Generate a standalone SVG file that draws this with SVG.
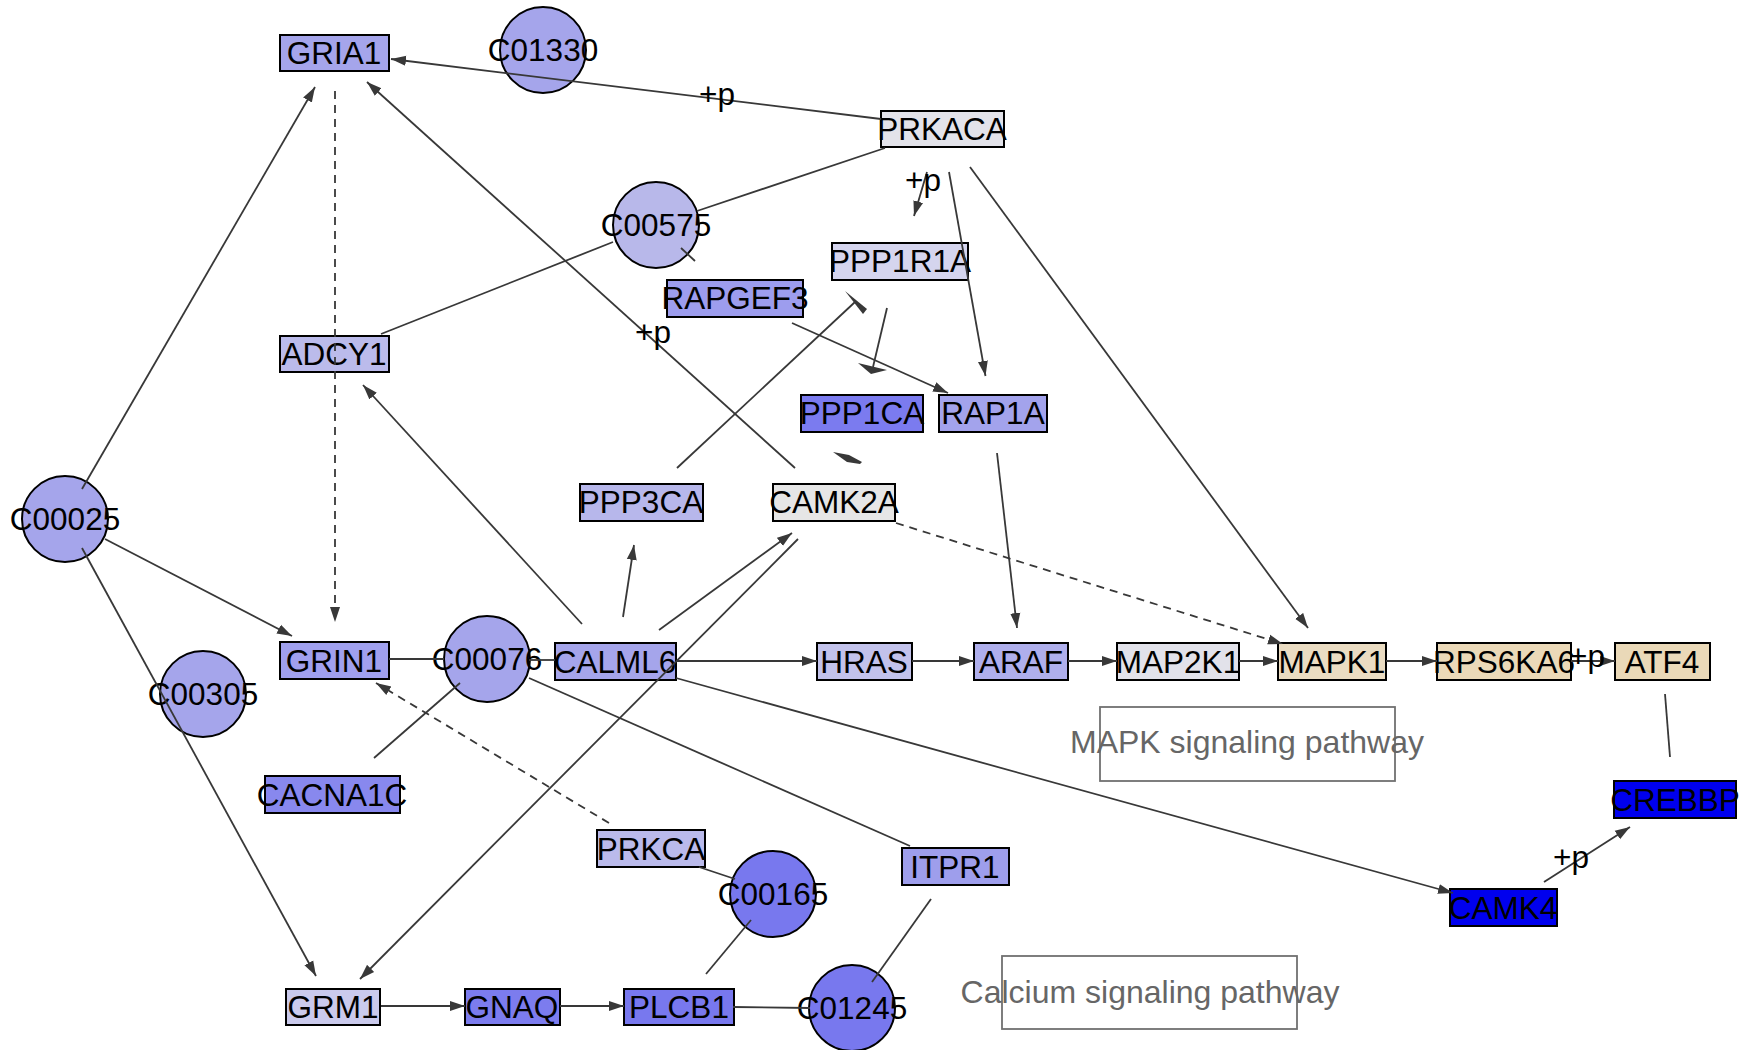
<svg xmlns="http://www.w3.org/2000/svg" width="1755" height="1050" viewBox="0 0 1755 1050">
<style>
text{font-family:"Liberation Sans",Arial,sans-serif;font-size:31.5px;fill:#000;text-anchor:middle}
.n rect,.n circle{stroke:#000;stroke-width:2}
.e{stroke:#383838;stroke-width:1.8;fill:none}
.d{stroke-dasharray:8 6}
.a{marker-end:url(#arr)}
.h{fill:#383838;stroke:none}
.pw rect{fill:#fff;stroke:#707070;stroke-width:1.8}
.pw text{fill:#666;font-size:32px}
.lb{font-size:31.5px}
</style>
<defs>
<marker id="arr" markerUnits="userSpaceOnUse" markerWidth="16" markerHeight="12" refX="15" refY="6" orient="auto"><path d="M0,1 L15,6 L0,11 z" fill="#383838"/></marker>
</defs>
<rect width="1755" height="1050" fill="#fff"/>
<g id="pw-mapk" class="pw"><rect x="1100" y="707" width="295" height="74"/><text x="1247" y="753">MAPK signaling pathway</text></g>
<g id="pw-calcium" class="pw"><rect x="1002" y="956" width="295" height="73"/><text x="1150" y="1003">Calcium signaling pathway</text></g>
<g id="GRIA1" class="n"><rect x="280" y="35" width="109" height="36" fill="#A5A5EB"/><text x="334" y="64">GRIA1</text></g>
<g id="C01330" class="n"><circle cx="543" cy="50" r="43" fill="#A5A5EB"/><text x="543" y="61">C01330</text></g>
<g id="PRKACA" class="n"><rect x="881" y="111" width="123" height="36" fill="#E3E3EA"/><text x="942" y="140">PRKACA</text></g>
<g id="C00575" class="n"><circle cx="656" cy="225" r="43" fill="#B8B8EA"/><text x="656" y="236">C00575</text></g>
<g id="PPP1R1A" class="n"><rect x="832" y="243" width="136" height="37" fill="#D5D5EE"/><text x="900" y="272">PPP1R1A</text></g>
<g id="RAPGEF3" class="n"><rect x="667" y="280" width="136" height="37" fill="#9D9DEE"/><text x="735" y="309">RAPGEF3</text></g>
<g id="ADCY1" class="n"><rect x="280" y="336" width="109" height="36" fill="#BBBBEB"/><text x="334" y="365">ADCY1</text></g>
<g id="PPP1CA" class="n"><rect x="801" y="395" width="122" height="37" fill="#7B7BEF"/><text x="862" y="424">PPP1CA</text></g>
<g id="RAP1A" class="n"><rect x="939" y="395" width="108" height="37" fill="#A3A3EC"/><text x="993" y="424">RAP1A</text></g>
<g id="C00025" class="n"><circle cx="65" cy="519" r="43" fill="#A5A5EB"/><text x="65" y="530">C00025</text></g>
<g id="PPP3CA" class="n"><rect x="580" y="484" width="123" height="37" fill="#B7B7EB"/><text x="641" y="513">PPP3CA</text></g>
<g id="CAMK2A" class="n"><rect x="773" y="484" width="122" height="37" fill="#E6E6E6"/><text x="834" y="513">CAMK2A</text></g>
<g id="GRIN1" class="n"><rect x="280" y="642" width="109" height="37" fill="#A0A0EE"/><text x="334" y="672">GRIN1</text></g>
<g id="C00076" class="n"><circle cx="487" cy="659" r="43" fill="#A5A5EB"/><text x="487" y="670">C00076</text></g>
<g id="CALML6" class="n"><rect x="555" y="643" width="121" height="37" fill="#A5A5EB"/><text x="615" y="673">CALML6</text></g>
<g id="HRAS" class="n"><rect x="817" y="643" width="95" height="37" fill="#C2C2EB"/><text x="864" y="673">HRAS</text></g>
<g id="ARAF" class="n"><rect x="974" y="643" width="94" height="37" fill="#AFAFEC"/><text x="1021" y="673">ARAF</text></g>
<g id="MAP2K1" class="n"><rect x="1117" y="643" width="122" height="37" fill="#E2E2EA"/><text x="1178" y="673">MAP2K1</text></g>
<g id="MAPK1" class="n"><rect x="1278" y="643" width="108" height="37" fill="#EADCC2"/><text x="1332" y="673">MAPK1</text></g>
<g id="RPS6KA6" class="n"><rect x="1437" y="643" width="134" height="37" fill="#EBD9B8"/><text x="1504" y="673">RPS6KA6</text></g>
<g id="ATF4" class="n"><rect x="1615" y="643" width="95" height="37" fill="#EAD9B8"/><text x="1662" y="673">ATF4</text></g>
<g id="C00305" class="n"><circle cx="203" cy="694" r="43" fill="#A5A5EB"/><text x="203" y="705">C00305</text></g>
<g id="CACNA1C" class="n"><rect x="265" y="776" width="135" height="37" fill="#8888EE"/><text x="332" y="806">CACNA1C</text></g>
<g id="CREBBP" class="n"><rect x="1614" y="781" width="122" height="37" fill="#0000EE"/><text x="1675" y="811">CREBBP</text></g>
<g id="PRKCA" class="n"><rect x="597" y="830" width="108" height="37" fill="#BABAEB"/><text x="651" y="860">PRKCA</text></g>
<g id="ITPR1" class="n"><rect x="902" y="848" width="107" height="37" fill="#9E9EEC"/><text x="955" y="878">ITPR1</text></g>
<g id="C00165" class="n"><circle cx="773" cy="894" r="43" fill="#7878EE"/><text x="773" y="905">C00165</text></g>
<g id="CAMK4" class="n"><rect x="1450" y="889" width="107" height="37" fill="#0000EE"/><text x="1503" y="919">CAMK4</text></g>
<g id="GRM1" class="n"><rect x="286" y="989" width="94" height="36" fill="#CACAEC"/><text x="333" y="1018">GRM1</text></g>
<g id="GNAQ" class="n"><rect x="465" y="989" width="95" height="36" fill="#7C7CEE"/><text x="512" y="1018">GNAQ</text></g>
<g id="PLCB1" class="n"><rect x="624" y="989" width="110" height="36" fill="#7878EE"/><text x="679" y="1018">PLCB1</text></g>
<g id="C01245" class="n"><circle cx="852" cy="1008" r="43" fill="#7878EE"/><text x="852" y="1019">C01245</text></g>
<g id="edges">
<path class="e a" d="M881,119 L391,59"/>
<path class="e" d="M381,334 L613,242"/>
<path class="e" d="M697,211 L885,148"/>
<path class="e" d="M681,248 L695,261"/>
<path class="e a" d="M82,489 L315,87"/>
<path class="e d a" d="M335,91 L335,622"/>
<path class="e a" d="M105,539 L292,636"/>
<path class="e a" d="M82,548 L316,976"/>
<path class="e a" d="M582,624 L363,385"/>
<path class="e a" d="M795,468 L367,82"/>
<path class="e a" d="M927,172 L914,216"/>
<path class="e a" d="M949,172 L985.5,376"/>
<path class="e a" d="M970,167 L1308,628"/>
<path class="e a" d="M792,323 L948,393"/>
<path class="e" d="M677,468 L855,302"/>
<polygon class="h" points="845,291 867,309 863,314"/>
<path class="e" d="M887,308 L873,367"/>
<polygon class="h" points="858,363 887,370 871,374"/>
<polygon class="h" points="833,452 849,455 862,462 860,464 847,462"/>
<path class="e a" d="M623,617 L634,545"/>
<path class="e a" d="M659,630 L792,533"/>
<path class="e a" d="M798,539 L360,979"/>
<path class="e d a" d="M896,523 L1283,644"/>
<path class="e a" d="M997,453 L1017,628"/>
<path class="e" d="M389,659 L444,659"/>
<path class="e" d="M529,660 L555,660"/>
<path class="e a" d="M676,661 L817,661"/>
<path class="e a" d="M912,661 L974,661"/>
<path class="e a" d="M1068,661 L1117,661"/>
<path class="e a" d="M1239,661 L1278,661"/>
<path class="e a" d="M1386,661 L1437,661"/>
<path class="e a" d="M1571,661 L1615,661"/>
<path class="e" d="M1665,694 L1670,757"/>
<path class="e a" d="M1544,882 L1630,827"/>
<path class="e a" d="M676,678 L1453,893"/>
<path class="e" d="M529,678 L910,846"/>
<path class="e" d="M460,683 L374,758"/>
<path class="e d a" d="M609,823 L376,683"/>
<path class="e" d="M699,867 L735,879"/>
<path class="e" d="M706,974 L751,920"/>
<path class="e" d="M733,1007 L810,1008"/>
<path class="e" d="M931,899 L872,982"/>
<path class="e a" d="M381,1006 L465,1006"/>
<path class="e a" d="M560,1006 L624,1006"/>
</g>
<g id="edge-labels">
<text class="lb" x="717" y="105">+p</text>
<text class="lb" x="923" y="191">+p</text>
<text class="lb" x="653" y="343">+p</text>
<text class="lb" x="1587" y="667">+p</text>
<text class="lb" x="1571" y="868">+p</text>
</g>
</svg>
